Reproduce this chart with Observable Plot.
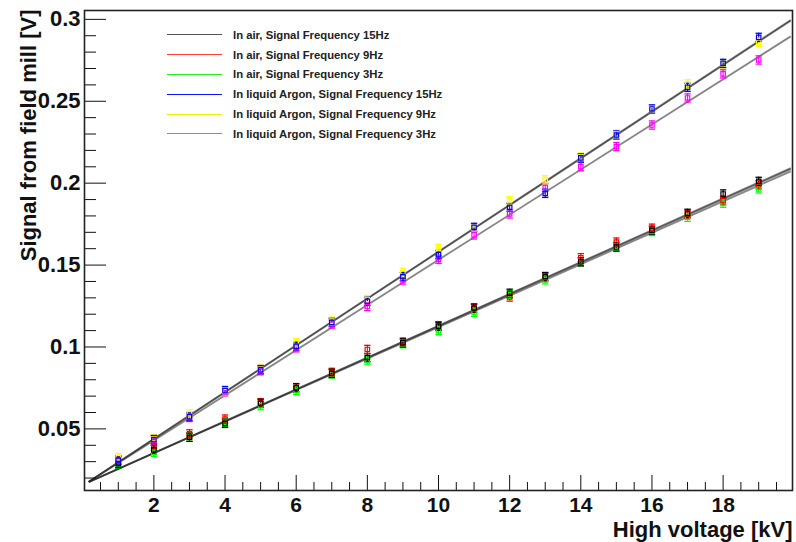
<!DOCTYPE html>
<html>
<head>
<meta charset="utf-8">
<script src="https://cdn.jsdelivr.net/npm/d3@7"></script>
<script src="https://cdn.jsdelivr.net/npm/@observablehq/plot@0.6"></script>
<style>
  html, body { margin: 0; padding: 0; background: #fff; }
  #wrap { position: relative; width: 796px; height: 542px; font-family: "Liberation Sans", Arial, sans-serif; }
  #legend { position: absolute; left: 167px; top: 25px; }
  .row { height: 19.8px; display: flex; align-items: center; }
  .sw { width: 55px; height: 0; border-top: 1.5px solid; margin-right: 11px; }
  .lab { font-size: 11.3px; font-weight: bold; color: #222; white-space: nowrap; }
</style>
</head>
<body>
<div id="wrap"><div id="chart"></div><div id="legend"></div></div>
<script>
// ---- data ----
const voltages = [1, 2, 3, 4, 5, 6, 7, 8, 9, 10, 11, 12, 13, 14, 15, 16, 17, 18, 19];

const seriesNames = [
  "In air, Signal Frequency 15Hz",
  "In air, Signal Frequency 9Hz",
  "In air, Signal Frequency 3Hz",
  "In liquid Argon, Signal Frequency 15Hz",
  "In liquid Argon, Signal Frequency 9Hz",
  "In liquid Argon, Signal Frequency 3Hz"
];
const seriesColors = ["#000000", "#ff0000", "#00ff00", "#0000ff", "#ffff00", "#ff00ff"];
const legendColors = ["#555555", "#ff4040", "#22ee22", "#1010ff", "#eeee00", "#ff40ff"];

const air15 = [0.0288, 0.0372, 0.0449, 0.0534, 0.0656, 0.0750, 0.0839, 0.0935, 0.1025, 0.1126, 0.1238, 0.1328, 0.1430, 0.1520, 0.1610, 0.1712, 0.1816, 0.1934, 0.2011];
const air9  = [0.0305, 0.0395, 0.0470, 0.0560, 0.0660, 0.0752, 0.0845, 0.0985, 0.1030, 0.1130, 0.1235, 0.1305, 0.1425, 0.1545, 0.1640, 0.1725, 0.1810, 0.1893, 0.1990];
const air3  = [0.0285, 0.0357, 0.0450, 0.0540, 0.0642, 0.0734, 0.0835, 0.0920, 0.1020, 0.1100, 0.1212, 0.1320, 0.1410, 0.1520, 0.1615, 0.1705, 0.1792, 0.1878, 0.1965];
const lar15 = [0.0310, 0.0435, 0.0575, 0.0734, 0.0862, 0.1004, 0.1150, 0.1279, 0.1430, 0.1564, 0.1730, 0.1853, 0.1938, 0.2154, 0.2294, 0.2453, 0.2585, 0.2731, 0.2890];
const lar9  = [0.0325, 0.0440, 0.0592, 0.0728, 0.0865, 0.1027, 0.1158, 0.1290, 0.1456, 0.1602, 0.1720, 0.1893, 0.2020, 0.2160, 0.2300, 0.2450, 0.2606, 0.2728, 0.2860];
const lar3  = [0.0310, 0.0430, 0.0570, 0.0725, 0.0855, 0.0995, 0.1140, 0.1247, 0.1409, 0.1535, 0.1684, 0.1812, 0.1975, 0.2101, 0.2223, 0.2355, 0.2520, 0.2667, 0.2752];
const seriesValues = [air15, air9, air3, lar15, lar9, lar3];
const seriesErrors = [0.0025, 0.0025, 0.0025, 0.0025, 0.0025, 0.0025];

// linear fit lines: end points
const fitX = [0.17, 19.9];
const fitStartY = [0.0175, 0.0176, 0.0176, 0.0178, 0.0178, 0.0178];
const fitEndY   = [0.2092, 0.2086, 0.2072, 0.2992, 0.2996, 0.2896];

// axes
const xMajor = [2, 4, 6, 8, 10, 12, 14, 16, 18];
const xMajorLabels = ["2", "4", "6", "8", "10", "12", "14", "16", "18"];
const yMajor = [0.05, 0.1, 0.15, 0.2, 0.25, 0.3];
const yMajorLabels = ["0.05", "0.1", "0.15", "0.2", "0.25", "0.3"];
const xDomain = [0.05, 19.95];
const yDomain = [0.0124, 0.3054];
const xTitle = "High voltage [kV]";
const yTitle = "Signal from field mill [V]";

// ---- build tables ----
const drawOrder = [2, 1, 0, 5, 4, 3];
const rows = [];
for (const s of drawOrder) {
  voltages.forEach((v, i) => rows.push({x: v, y: seriesValues[s][i], e: seriesErrors[s], color: seriesColors[s]}));
}
const fits = seriesNames.map((n, s) => ({x1: fitX[0], y1: fitStartY[s], x2: fitX[1], y2: fitEndY[s]}));
const xMinor = d3.range(1, 40).map(k => k * 0.5).filter(v => v % 2 !== 0);
const yMinor = d3.range(2, 31).map(k => +(k * 0.01).toFixed(2)).filter(v => !yMajor.some(m => Math.abs(m - v) < 1e-9));

const W = 796, H = 542, mL = 84, mR = 4, mT = 10, mB = 52;
const iw = W - mL - mR, ih = H - mT - mB;
const font = "Liberation Sans, Arial, sans-serif";
const hline = {draw(ctx, size) { const r = Math.sqrt(size / Math.PI); ctx.moveTo(-r, 0); ctx.lineTo(r, 0); }};

const chart = Plot.plot({
  width: W, height: H,
  marginLeft: mL, marginRight: mR, marginTop: mT, marginBottom: mB,
  style: {fontFamily: font, background: "#fff", color: "#111"},
  x: {domain: xDomain, axis: null},
  y: {domain: yDomain, axis: null},
  color: {type: "identity"},
  marks: [
    Plot.link(fits, {x1: "x1", y1: "y1", x2: "x2", y2: "y2", stroke: "#222", strokeOpacity: 0.55, strokeWidth: 1.8}),
    Plot.ruleX(rows, {x: "x", y1: d => d.y - d.e, y2: d => d.y + d.e, stroke: "color", strokeWidth: 1.1}),
    Plot.dot(rows, {x: "x", y: d => d.y + d.e, symbol: hline, r: 3.2, stroke: "color", strokeWidth: 1.3}),
    Plot.dot(rows, {x: "x", y: d => d.y - d.e, symbol: hline, r: 3.2, stroke: "color", strokeWidth: 1.3}),
    Plot.dot(rows, {x: "x", y: "y", symbol: "square", r: 2.5, stroke: "color", fill: "none", strokeWidth: 1.2}),
    Plot.tickX(xMajor, {x: d => d, stroke: "#111", insetTop: ih - 15}),
    Plot.tickX(xMinor, {x: d => d, stroke: "#111", insetTop: ih - 8}),
    Plot.tickY(yMajor, {y: d => d, stroke: "#111", insetRight: iw - 22}),
    Plot.tickY(yMinor, {y: d => d, stroke: "#111", insetRight: iw - 12}),
    Plot.frame({stroke: "#222", strokeWidth: 1.6}),
    Plot.axisX(xMajor, {tickSize: 0, tickPadding: 7, fontSize: 21, fontWeight: "bold", label: null,
      tickFormat: d => xMajorLabels[xMajor.indexOf(d)]}),
    Plot.axisY(yMajor, {tickSize: 0, tickPadding: 4, fontSize: 22, fontWeight: "bold", label: null,
      tickFormat: d => yMajorLabels[yMajor.indexOf(d)]}),
    Plot.text([xTitle], {text: d => d, frameAnchor: "bottom-right", textAnchor: "end", lineAnchor: "bottom",
      dy: 46, fontSize: 22, fontWeight: "bold", fill: "#111"}),
    Plot.text([yTitle], {text: d => d, frameAnchor: "top-left", textAnchor: "end", lineAnchor: "bottom",
      rotate: -90, dx: -49, dy: -1, fontSize: 22, fontWeight: "bold", fill: "#111"})
  ]
});
document.getElementById("chart").appendChild(chart);

// legend
const leg = document.getElementById("legend");
seriesNames.forEach((n, s) => {
  const r = document.createElement("div"); r.className = "row";
  const sw = document.createElement("div"); sw.className = "sw"; sw.style.borderTopColor = legendColors[s];
  const lb = document.createElement("div"); lb.className = "lab"; lb.textContent = n;
  r.appendChild(sw); r.appendChild(lb); leg.appendChild(r);
});
</script>
</body>
</html>
